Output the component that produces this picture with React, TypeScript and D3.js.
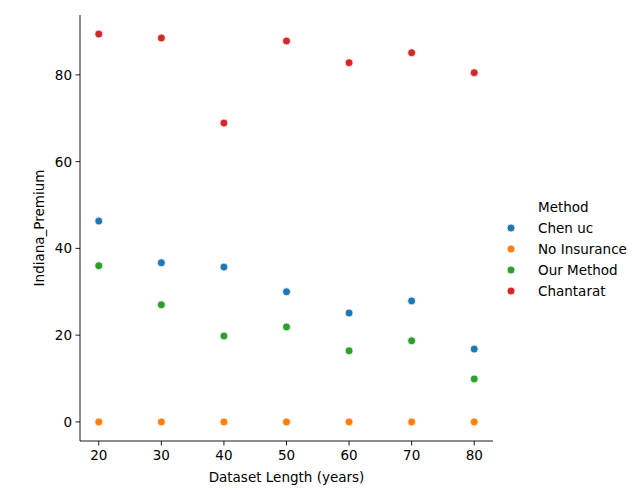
import React from "react";
import * as d3 from "d3";

const years = [20, 30, 40, 50, 60, 70, 80];
const chenUc = [46.3, 36.7, 35.7, 30.0, 25.1, 27.9, 16.8];
const noInsurance = [0, 0, 0, 0, 0, 0, 0];
const ourMethod = [36.0, 27.0, 19.8, 21.9, 16.4, 18.7, 9.9];
const chantarat = [89.4, 88.5, 68.9, 87.8, 82.8, 85.1, 80.5];
const seriesNames = ["Chen uc", "No Insurance", "Our Method", "Chantarat"];
const colors = ["#1f77b4", "#ff7f0e", "#2ca02c", "#d62728"];
const xTicks = [20, 30, 40, 50, 60, 70, 80];
const yTicks = [0, 20, 40, 60, 80];

export default function App() {
  const W = 641, H = 500;
  const L = 80, R = 493, T = 15, B = 441;
  const x = d3.scaleLinear().domain([17.0, 83.0]).range([L, R]);
  const y = d3.scaleLinear().domain([-4.4, 93.8]).range([B, T]);
  const data = [chenUc, noInsurance, ourMethod, chantarat];
  const font = "DejaVu Sans, sans-serif";
  const fs = 13.5;
  return (
    <svg width={W} height={H} style={{ position: "absolute", left: 0, top: 0, background: "#fff" }} fontFamily={font}>
      <line x1={L} x2={L} y1={T} y2={B} stroke="#000" strokeWidth={0.9} />
      <line x1={L} x2={R} y1={B} y2={B} stroke="#000" strokeWidth={0.9} />
      {xTicks.map(t => (
        <g key={t}>
          <line x1={x(t)} x2={x(t)} y1={B} y2={B + 4.5} stroke="#000" strokeWidth={0.9} />
          <text x={x(t)} y={B + 19} fontSize={fs} textAnchor="middle">{t}</text>
        </g>
      ))}
      {yTicks.map(t => (
        <g key={t}>
          <line x1={L - 4.5} x2={L} y1={y(t)} y2={y(t)} stroke="#000" strokeWidth={0.9} />
          <text x={L - 8} y={y(t) + 5} fontSize={fs} textAnchor="end">{t}</text>
        </g>
      ))}
      <text x={(L + R) / 2} y={482} fontSize={fs} textAnchor="middle">Dataset Length (years)</text>
      <text transform={`translate(44,${(T + B) / 2}) rotate(-90)`} fontSize={fs} textAnchor="middle">Indiana_Premium</text>
      {data.map((s, i) => s.map((v, j) => (
        <circle key={`${i}-${j}`} cx={x(years[j])} cy={y(v)} r={4} fill={colors[i]} stroke="#fff" strokeWidth={0.8} />
      )))}
      <text x={538} y={212} fontSize={fs}>Method</text>
      {seriesNames.map((n, i) => (
        <g key={n}>
          <circle cx={511} cy={228 + i * 21} r={4} fill={colors[i]} stroke="#fff" strokeWidth={0.8} />
          <text x={538} y={233 + i * 21} fontSize={fs}>{n}</text>
        </g>
      ))}
    </svg>
  );
}
